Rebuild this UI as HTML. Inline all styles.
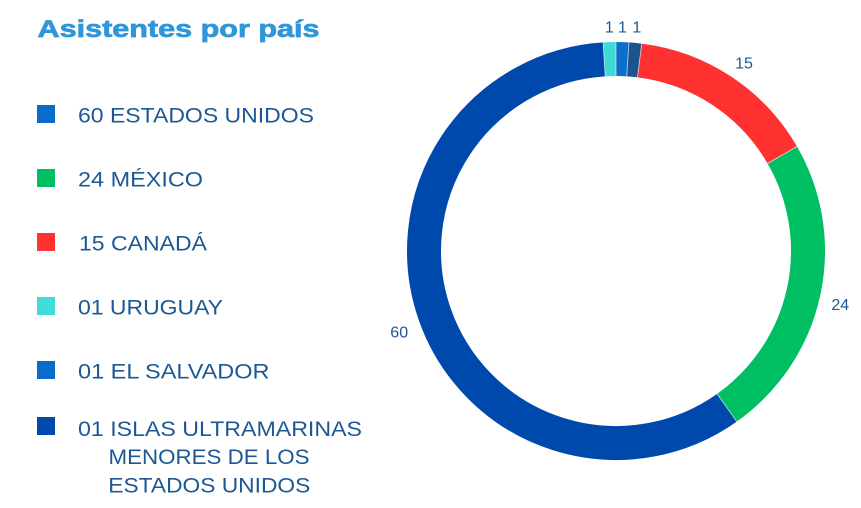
<!DOCTYPE html>
<html>
<head>
<meta charset="utf-8">
<style>
  html, body { margin: 0; padding: 0; background: #ffffff; }
  body { width: 861px; height: 508px; overflow: hidden; }
  svg { display: block; }
  .lg { font-family: "Liberation Sans", sans-serif; font-size: 21.5px; fill: #1D5894; }
  .lb { font-family: "Liberation Sans", sans-serif; font-size: 16px; fill: #1D5894; }
</style>
</head>
<body>
<svg width="861" height="508" viewBox="0 0 861 508" xmlns="http://www.w3.org/2000/svg">
  <rect x="0" y="0" width="861" height="508" fill="#ffffff"/>

  <!-- Title -->
  <text x="37.5" y="37" font-family="Liberation Sans, sans-serif" font-weight="bold" font-size="24" fill="#2F96D9" stroke="#2F96D9" stroke-width="0.7" textLength="282" lengthAdjust="spacingAndGlyphs">Asistentes por país</text>

  <!-- Legend squares -->
  <rect x="37" y="105" width="18" height="18" fill="#0B6BCB"/>
  <rect x="37" y="169" width="18" height="18" fill="#00BF63"/>
  <rect x="37" y="233" width="18" height="18" fill="#FF3131"/>
  <rect x="37" y="297" width="18" height="18" fill="#40DCD8"/>
  <rect x="37" y="361" width="18" height="18" fill="#0B6BCB"/>
  <rect x="37" y="417" width="18" height="18" fill="#004AAD"/>

  <!-- Legend text -->
  <text class="lg" x="78" y="122.7" textLength="236" lengthAdjust="spacingAndGlyphs">60 ESTADOS UNIDOS</text>
  <text class="lg" x="78" y="186.5" textLength="125" lengthAdjust="spacingAndGlyphs">24 MÉXICO</text>
  <text class="lg" x="79" y="250.3" textLength="128" lengthAdjust="spacingAndGlyphs">15 CANADÁ</text>
  <text class="lg" x="78" y="314.4" textLength="145" lengthAdjust="spacingAndGlyphs">01 URUGUAY</text>
  <text class="lg" x="78" y="378.7" textLength="191.5" lengthAdjust="spacingAndGlyphs">01 EL SALVADOR</text>
  <text class="lg" x="78" y="436" textLength="284" lengthAdjust="spacingAndGlyphs">01 ISLAS ULTRAMARINAS</text>
  <text class="lg" x="108.5" y="464.2" textLength="201" lengthAdjust="spacingAndGlyphs">MENORES DE LOS</text>
  <text class="lg" x="108.3" y="492.6" textLength="202" lengthAdjust="spacingAndGlyphs">ESTADOS UNIDOS</text>

  <!-- Donut -->
  <g fill="none" stroke-width="34">
    <path d="M616,59 A192,192 0 0 1 627.82,59.36" stroke="#0C6FCC"/>
    <path d="M627.82,59.36 A192,192 0 0 1 639.59,60.46" stroke="#1A5590"/>
    <path d="M639.59,60.46 A192,192 0 0 1 782.28,155" stroke="#FF3131"/>
    <path d="M782.28,155 A192,192 0 0 1 726.95,407.70" stroke="#00BF63"/>
    <path d="M726.95,407.70 A192,192 0 1 1 604.18,59.36" stroke="#0049AC"/>
    <path d="M604.18,59.36 A192,192 0 0 1 616,59" stroke="#40DAD6"/>
  </g>
  <!-- slice separators -->
  <g stroke="#ffffff" stroke-opacity="0.7" stroke-width="0.8">
    <line x1="616" y1="77" x2="616" y2="41"/>
    <line x1="626.71" y1="77.33" x2="628.93" y2="41.40"/>
    <line x1="637.38" y1="78.32" x2="641.81" y2="42.59"/>
    <line x1="766.69" y1="164" x2="797.87" y2="146"/>
    <line x1="716.55" y1="393.01" x2="737.35" y2="422.39"/>
    <line x1="605.29" y1="77.33" x2="603.07" y2="41.40"/>
  </g>

  <!-- Data labels -->
  <text class="lb" x="609.3" y="32.7" text-anchor="middle">1</text>
  <text class="lb" x="622.5" y="32.7" text-anchor="middle">1</text>
  <text class="lb" x="636.8" y="32.7" text-anchor="middle">1</text>
  <text class="lb" x="744" y="68.3" text-anchor="middle">15</text>
  <text class="lb" x="840.3" y="310" text-anchor="middle">24</text>
  <text class="lb" x="399.2" y="337.7" text-anchor="middle">60</text>
</svg>
</body>
</html>
